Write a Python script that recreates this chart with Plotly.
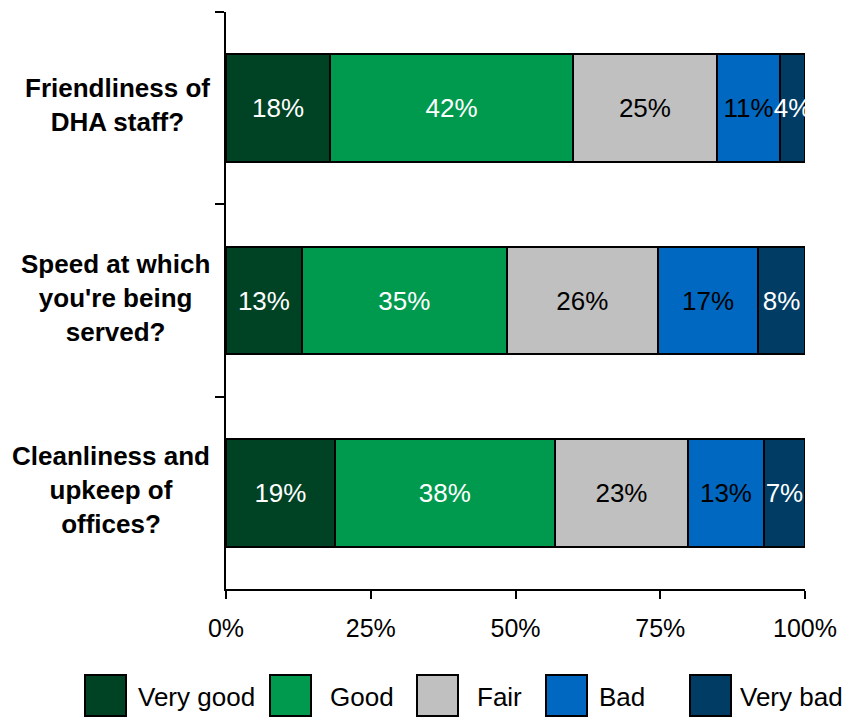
import plotly.graph_objects as go

# Survey questions (top to bottom)
categories = [
    "Friendliness of<br>DHA staff?",
    "Speed at which<br>you're being<br>served?",
    "Cleanliness and<br>upkeep of<br>offices?",
]

# Share of responses per rating (%)
very_good = [18.0, 13.1, 18.8]
good = [41.9, 35.4, 38.0]
fair = [24.9, 26.1, 23.0]
bad = [10.9, 17.3, 13.1]
very_bad = [4.3, 8.1, 7.1]

series_names = ["Very good", "Good", "Fair", "Bad", "Very bad"]
series_values = [very_good, good, fair, bad, very_bad]
series_colors = ["#004224", "#009A4E", "#C0C0C0", "#0068C0", "#003C64"]
label_colors = ["white", "white", "black", "black", "white"]

x_ticks = [0, 25, 50, 75, 100]

FONT = "Liberation Sans, Arial, sans-serif"
W, H = 848, 718
M_L, M_R, M_T, M_B = 226, 43, 12, 129
PW, PH = W - M_L - M_R, H - M_T - M_B


def px_x(px):
    return (px - M_L) / PW


def px_y(py):
    return (H - M_B - py) / PH


fig = go.Figure()
for name, vals, col, tcol in zip(series_names, series_values, series_colors, label_colors):
    fig.add_trace(go.Bar(
        name=name,
        y=categories,
        x=vals,
        orientation="h",
        marker=dict(color=col, line=dict(color="black", width=2)),
        texttemplate="%{x:.0f}%",
        textposition="inside",
        insidetextanchor="middle",
        textangle=0,
        constraintext="none",
        cliponaxis=True,
        textfont=dict(family=FONT, size=26, color=tcol),
        hoverinfo="skip",
        showlegend=False,
    ))

# Question labels, centred line by line
annotations = []
for cat in categories:
    annotations.append(dict(
        text=f"<b>{cat}</b>", x=px_x(212), xref="paper", y=cat, yref="y",
        xanchor="right", yanchor="middle", align="center", showarrow=False,
        yshift=3,
        font=dict(family=FONT, size=26, color="black"),
    ))

# Legend drawn as boxed swatches along the bottom
legend_box_left = [85, 270, 417, 546, 690]
legend_text_left = [136, 328, 475, 597, 738]
shapes = []
for name, col, bx, tx in zip(series_names, series_colors, legend_box_left, legend_text_left):
    shapes.append(dict(
        type="rect", xref="paper", yref="paper",
        x0=px_x(bx), x1=px_x(bx + 41), y0=px_y(716), y1=px_y(675),
        fillcolor=col, line=dict(color="black", width=2),
    ))
    annotations.append(dict(
        text=name, x=px_x(tx), xref="paper", y=px_y(697), yref="paper",
        xanchor="left", yanchor="middle", showarrow=False,
        font=dict(family=FONT, size=26, color="black"),
    ))

fig.update_layout(
    barmode="stack",
    bargap=0.44,
    width=W, height=H,
    margin=dict(l=M_L, r=M_R, t=M_T, b=M_B),
    paper_bgcolor="white", plot_bgcolor="white",
    font=dict(family=FONT, color="black"),
    showlegend=False,
    annotations=annotations,
    shapes=shapes,
    xaxis=dict(
        range=[0, 100], tickvals=x_ticks, ticktext=[f"{v}%" for v in x_ticks],
        showgrid=False, zeroline=False,
        showline=True, linecolor="black", linewidth=2,
        ticks="outside", ticklen=8, tickwidth=2, tickcolor="black",
        tickfont=dict(family=FONT, size=25, color="black"),
        ticklabelstandoff=8, fixedrange=True,
    ),
    yaxis=dict(
        type="category", categoryorder="array", categoryarray=categories,
        autorange="reversed", showticklabels=False,
        tickson="boundaries", ticks="outside", ticklen=9, tickwidth=2, tickcolor="black",
        showgrid=False, zeroline=False,
        showline=True, linecolor="black", linewidth=2, fixedrange=True,
    ),
)

fig.write_html("out.html")
